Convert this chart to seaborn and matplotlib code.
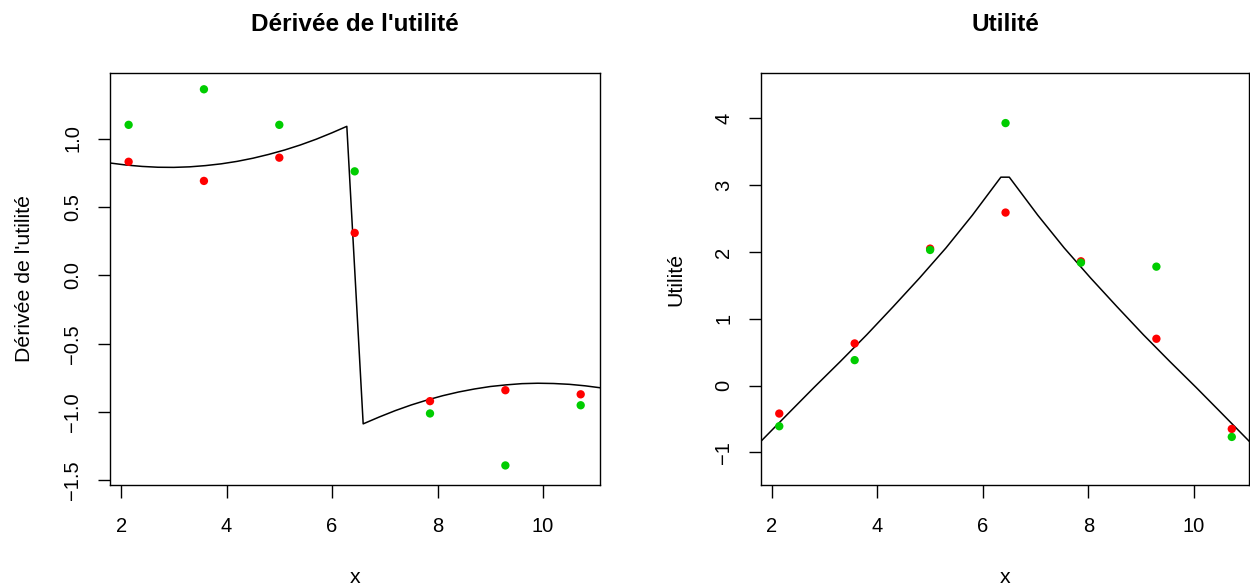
import matplotlib
matplotlib.use("Agg")
import matplotlib.pyplot as plt
import seaborn as sns
import pandas as pd

# ---- data ----
x_pts = [2.143, 3.571, 5.0, 6.429, 7.857, 9.286, 10.714]
deriv_red = [0.83, 0.69, 0.86, 0.31, -0.92, -0.84, -0.87]
deriv_green = [1.10, 1.36, 1.10, 0.76, -1.01, -1.39, -0.95]
util_red = [-0.42, 0.63, 2.05, 2.59, 1.86, 0.70, -0.65]
util_green = [-0.61, 0.38, 2.03, 3.93, 1.84, 1.78, -0.77]

curve_x_deriv = [1.79, 2.1, 2.4, 2.7, 3.0, 3.3, 3.6, 3.9, 4.2, 4.5, 4.8, 5.1, 5.4,
                 5.7, 6.0, 6.28, 6.59, 6.9, 7.2, 7.5, 7.8, 8.1, 8.4, 8.7, 9.0, 9.3,
                 9.6, 9.9, 10.2, 10.5, 10.8, 11.08]
curve_y_deriv = [0.821, 0.806, 0.796, 0.790, 0.789, 0.793, 0.802, 0.815, 0.833,
                 0.856, 0.884, 0.916, 0.953, 0.995, 1.042, 1.089, -1.086, -1.035,
                 -0.989, -0.948, -0.912, -0.880, -0.853, -0.831, -0.813, -0.801,
                 -0.792, -0.789, -0.791, -0.797, -0.808, -0.822]

curve_x_util = [1.79, 2.3, 2.8, 3.3, 3.8, 4.3, 4.8, 5.3, 5.8, 6.34, 6.50, 7.04,
                7.54, 8.04, 8.54, 9.04, 9.54, 10.04, 10.54, 11.05]
curve_y_util = [-0.84, -0.43, -0.03, 0.36, 0.76, 1.18, 1.61, 2.06, 2.55, 3.12,
                3.12, 2.55, 2.06, 1.61, 1.18, 0.76, 0.36, -0.03, -0.43, -0.84]

titles = ["Dérivée de l'utilité", "Utilité"]
ylabels = ["Dérivée de l'utilité", "Utilité"]
xlabel = "x"
xticks = [2, 4, 6, 8, 10]
yticks_deriv = [-1.5, -1.0, -0.5, 0.0, 0.5, 1.0]
yticks_util = [-1, 0, 1, 2, 3, 4]
series_names = ["rouge", "vert"]
palette = {"rouge": "#FF0000", "vert": "#00CD00"}

# ---- styling ----
sns.set_theme(style="white")
plt.rcParams["font.family"] = ["Liberation Sans", "DejaVu Sans"]
plt.rcParams["axes.edgecolor"] = "black"
plt.rcParams["axes.linewidth"] = 1.0
plt.rcParams["xtick.color"] = "black"
plt.rcParams["ytick.color"] = "black"
plt.rcParams["text.color"] = "black"
plt.rcParams["axes.labelcolor"] = "black"

W, H = 1250, 588
fig = plt.figure(figsize=(W / 100, H / 100), dpi=100)
ax1 = fig.add_axes([110 / W, (H - 485) / H, 490 / W, 412 / H])
ax2 = fig.add_axes([761 / W, (H - 485) / H, 488 / W, 412 / H])


def make_points(y_red, y_green):
    return pd.DataFrame({
        "x": x_pts + x_pts,
        "y": list(y_red) + list(y_green),
        "serie": [series_names[0]] * len(x_pts) + [series_names[1]] * len(x_pts),
    })


panels = [
    (ax1, curve_x_deriv, curve_y_deriv, deriv_red, deriv_green, yticks_deriv,
     ["\u22121.5", "\u22121.0", "\u22120.5", "0.0", "0.5", "1.0"],
     (1.79, 11.08), (-1.533, 1.479), titles[0], ylabels[0]),
    (ax2, curve_x_util, curve_y_util, util_red, util_green, yticks_util,
     ["\u22121", "0", "1", "2", "3", "4"],
     (1.797, 11.04), (-1.49, 4.68), titles[1], ylabels[1]),
]

for ax, cx, cy, yr, yg, yt, ytl, xl, yl, title, ylab in panels:
    curve = pd.DataFrame({"x": cx, "y": cy})
    sns.lineplot(data=curve, x="x", y="y", sort=False, estimator=None,
                 color="black", linewidth=1.1, ax=ax)
    sns.scatterplot(data=make_points(yr, yg), x="x", y="y", hue="serie",
                    palette=palette, s=36, linewidth=0, legend=False, ax=ax,
                    zorder=3)
    ax.set_xlim(*xl)
    ax.set_ylim(*yl)
    ax.set_xticks(xticks)
    ax.set_xticklabels([str(t) for t in xticks])
    ax.set_yticks(yt)
    ax.set_yticklabels(ytl)
    ax.tick_params(axis="both", which="major", direction="out", length=9,
                   width=1.0, labelsize=14.5, bottom=True, left=True)
    ax.tick_params(axis="x", pad=14)
    ax.tick_params(axis="y", pad=11)
    for lab in ax.get_yticklabels():
        lab.set_rotation(90)
        lab.set_va("center")
    ax.set_xlabel(xlabel, fontsize=15.3, labelpad=23)
    ax.set_ylabel(ylab, fontsize=15.3, labelpad=21)
    ax.set_title(title, fontsize=17.5, fontweight="bold", pad=30)
    for sp in ax.spines.values():
        sp.set_visible(True)
        sp.set_color("black")
        sp.set_linewidth(1.0)

fig.savefig("out.png", dpi=100)
